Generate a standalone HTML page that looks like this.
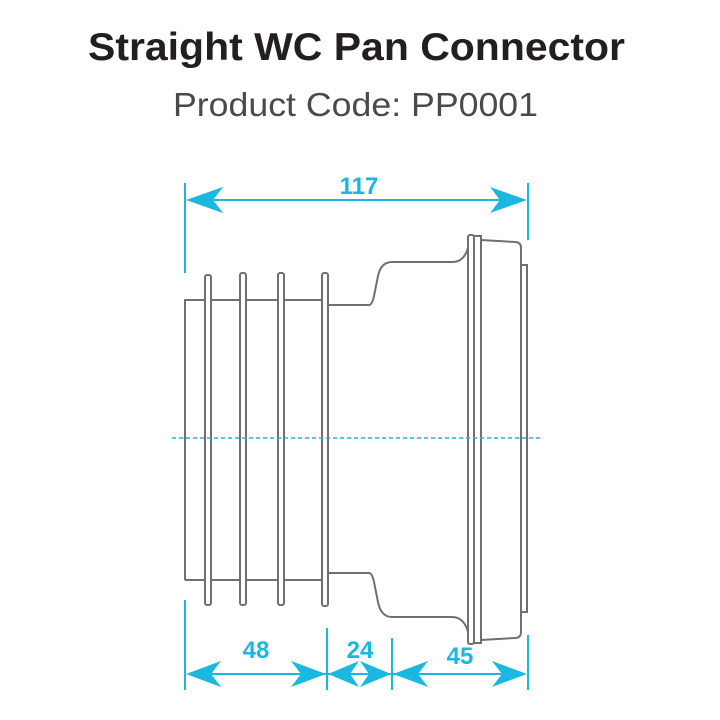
<!DOCTYPE html>
<html><head><style>
body{margin:0;background:#fff;}
svg{display:block}
</style></head><body>
<svg width="720" height="720" viewBox="0 0 720 720" xmlns="http://www.w3.org/2000/svg">
<text x="88" y="60" textLength="537" lengthAdjust="spacingAndGlyphs" font-family="Liberation Sans, sans-serif" font-size="39" font-weight="bold" fill="#231f20">Straight WC Pan Connector</text>
<text x="173" y="116" textLength="365" lengthAdjust="spacingAndGlyphs" font-family="Liberation Sans, sans-serif" font-size="33" fill="#4a4a4a">Product Code: PP0001</text>

<g fill="none" stroke="#707070" stroke-width="2">
<path d="M185 580 V300 H205 M211 300 H240 M247 300 H278 M285 300 H322"/>
<path d="M185 580 H205 M211 580 H240 M247 580 H278 M285 580 H322"/>
<rect x="205" y="275" width="6" height="330" rx="2"/>
<rect x="240" y="273" width="6" height="332" rx="2"/>
<rect x="278" y="273" width="6" height="332" rx="2"/>
<rect x="322" y="273" width="6" height="333" rx="2"/>
<path d="M328 305 H369 Q372 305 374 296 L378 276 Q381 262 392 262 H452 Q464 262 468 248"/>
<path d="M328 573 H369 Q372 573 374 582 L378 602 Q381 617 392 617 H452 Q464 617 468 632"/>
<rect x="468" y="235" width="6" height="409" rx="2"/>
<rect x="474" y="236" width="7" height="407"/>
<path d="M481 240 L515 242 Q521 242 521 248 V632 Q521 638 515 638 L481 640"/>
<rect x="521" y="265" width="6" height="347"/>
</g>

<g stroke="#1ab8e0" stroke-width="2" fill="#1ab8e0">
<line x1="185" y1="183" x2="185" y2="273"/>
<line x1="528" y1="183" x2="528" y2="240"/>
<line x1="190" y1="200" x2="523" y2="200"/>
<line x1="172" y1="438" x2="540" y2="438" stroke-dasharray="4,3" stroke-width="1.5"/>
<line x1="185" y1="600" x2="185" y2="690"/>
<line x1="327" y1="628" x2="327" y2="690"/>
<line x1="392" y1="638" x2="392" y2="690"/>
<line x1="528" y1="635" x2="528" y2="690"/>
<line x1="190" y1="674" x2="523" y2="674"/>
</g>
<g fill="#1ab8e0">
<polygon points="186,200 223,187 213,200 223,213"/>
<polygon points="527,200 490,187 500,200 490,213"/>
<polygon points="186,674 221,661 211,674 221,687"/>
<polygon points="326,674 291,661 301,674 291,687"/>
<polygon points="328,674 359,661 350,674 359,687"/>
<polygon points="391,674 360,661 369,674 360,687"/>
<polygon points="393,674 428,661 418,674 428,687"/>
<polygon points="527,674 492,661 502,674 492,687"/>
</g>
<g font-family="Liberation Sans, sans-serif" font-weight="bold" font-size="24" fill="#1ab8e0" text-anchor="middle">
<text x="359" y="194">117</text>
<text x="256" y="658">48</text>
<text x="360" y="658">24</text>
<text x="460" y="664">45</text>
</g>
</svg>
</body></html>
